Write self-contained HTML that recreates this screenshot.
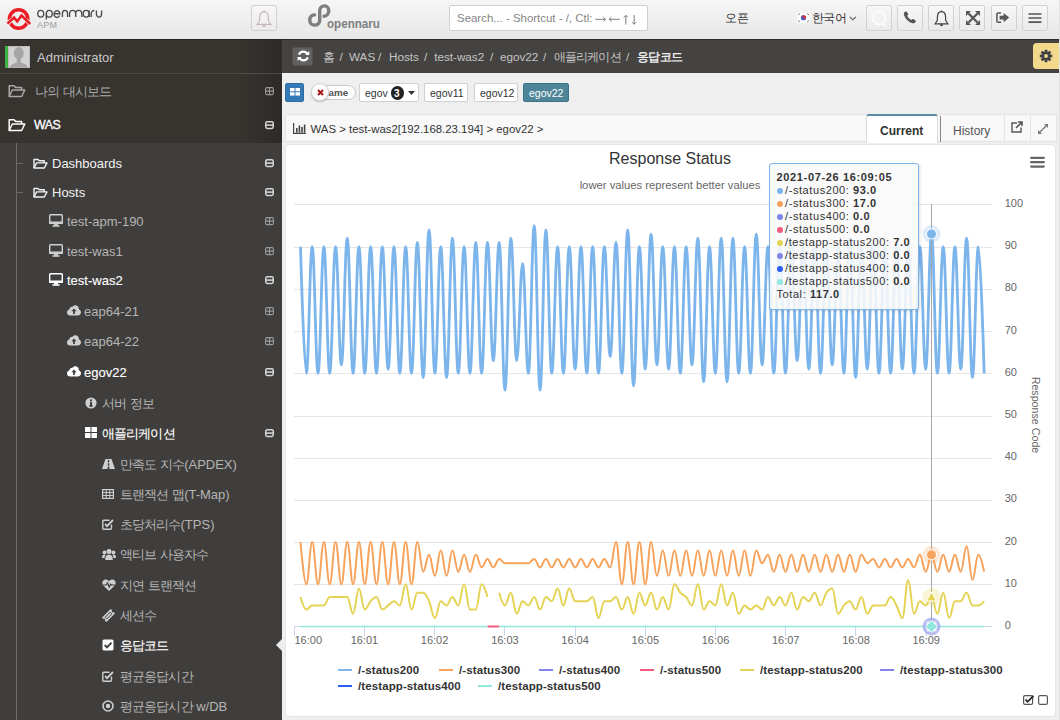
<!DOCTYPE html><html><head><meta charset="utf-8"><style>
*{box-sizing:border-box;margin:0;padding:0}
html,body{width:1060px;height:720px;overflow:hidden;background:#ececec;font-family:"Liberation Sans",sans-serif;position:relative}
.a{position:absolute}
.t{position:absolute;white-space:nowrap;line-height:1}
#hdr{left:0;top:0;width:1060px;height:39px;background:linear-gradient(#f6f6f6,#e7e7e7);}
.hb{position:absolute;top:5px;width:26px;height:26px;border:1px solid #d2d2d2;border-radius:2px;background:linear-gradient(#f7f7f7,#ebebeb)}
.hb svg{position:absolute;left:0;top:0}

#sideTop{left:0;top:39px;width:282px;height:104px;background:linear-gradient(90deg,#37332f 0%,#37332f 85%,#2e2a27 100%)}
#sideNest{left:0;top:143px;width:282px;height:577px;background:#403e3c}
</style></head><body><div id="hdr" class="a">
<svg class="a" style="left:0px;top:0px" width="36" height="36" viewBox="0 0 36 36" ><circle cx="18.6" cy="19" r="9.2" fill="none" stroke="#ec1c24" stroke-width="3.5"/><path d="M6.5 24.6 L12 19.6 M25.6 19.6 L30.9 24.6" fill="none" stroke="#f2f2f2" stroke-width="4.0"/><path d="M7.4 23.6 L14 17.6 L17.3 21.4 L21.5 15.6 L30.2 24" fill="none" stroke="#ec1c24" stroke-width="2.6" stroke-linejoin="miter"/></svg>
<svg class="a" style="left:0px;top:0px" width="110" height="30" viewBox="0 0 110 30" ><ellipse cx="40.75" cy="13.75" rx="2.95" ry="3.35" fill="none" stroke="#4a4a4a" stroke-width="1.35"/><ellipse cx="49.3" cy="13.75" rx="2.95" ry="3.35" fill="none" stroke="#4a4a4a" stroke-width="1.35"/><path d="M46.3 13.75 V19.6" stroke="#4a4a4a" stroke-width="1.35"/><path d="M59.6 15.6 A2.95 3.35 0 1 1 59.9 13.75 H54.1" fill="none" stroke="#4a4a4a" stroke-width="1.35"/><path d="M62.4 17.1 V13.75 A2.6 3.35 0 0 1 67.6 13.75 V17.1" fill="none" stroke="#4a4a4a" stroke-width="1.35"/><path d="M69.6 17.1 V13.75 A3.05 3.35 0 0 1 75.69999999999999 13.75 V17.1 M75.7 13.75 A3.05 3.35 0 0 1 81.8 13.75 V17.1" fill="none" stroke="#4a4a4a" stroke-width="1.35"/><ellipse cx="86.2" cy="13.75" rx="2.95" ry="3.35" fill="none" stroke="#4a4a4a" stroke-width="1.35"/><path d="M89.2 10.4 V17.1" stroke="#4a4a4a" stroke-width="1.35"/><path d="M91.2 17.1 V13.75 A3 3.35 0 0 1 94.3 10.5" fill="none" stroke="#4a4a4a" stroke-width="1.35"/><path d="M96.4 10.4 V13.75 A2.6 3.35 0 0 0 101.6 13.75 V10.4" fill="none" stroke="#4a4a4a" stroke-width="1.35"/></svg>
<div class="t" style="left:37px;top:21px;font-size:9px;color:#9d9d9d;letter-spacing:0.2px">APM</div>
<div class="hb" style="left:251px;top:5px;width:26px;height:26px"></div>
<svg class="a" style="left:255.5px;top:10px" width="17" height="18" viewBox="0 0 17 18" ><path d="M8 1.6 C5.1 1.6 3.6 4.3 3.6 7.6 V10.6 L1.1 14.4 H14.9 L12.4 10.6 V7.6 C12.4 4.3 10.9 1.6 8 1.6 Z" fill="none" stroke="#c8bab6" stroke-width="1.2"/><path d="M6.2 14.8 a1.8 2.2 0 0 0 3.6 0 Z" fill="#c8bab6"/><circle cx="8" cy="1.4" r="1" fill="#c8bab6"/></svg>
<svg class="a" style="left:300px;top:0px" width="40" height="34" viewBox="0 0 40 34" ><path d="M14.6 14.9 C11.2 14.9 9.8 17.6 9.8 20.2 C9.8 23.2 11.8 25.1 14.6 25.1 C17.6 25.1 19.7 23 19.7 20 V10.8 C19.7 7.8 21.9 5.9 24.4 5.9 C27.1 5.9 28.8 8 28.8 10.6 C28.8 13.6 26.8 16.2 24 16.3" fill="none" stroke="#7e7e7e" stroke-width="3.4" stroke-linecap="round"/></svg>
<div class="t" style="left:327px;top:17px;font-size:13.5px;font-weight:bold;color:#7f7f7f;transform:scaleX(0.86);transform-origin:0 0">opennaru</div>
<div class="a" style="left:449px;top:5px;width:199px;height:26px;background:#fff;border:1px solid #d0d0d0;border-radius:2px"></div>
<div class="t" style="left:457px;top:13.2px;font-size:11.45px;color:#858585;">Search... - Shortcut - /, Ctl:</div>
<svg class="a" style="left:594px;top:11px" width="46" height="16" viewBox="0 0 46 16" ><g fill="none" stroke="#7d7d7d" stroke-width="1"><path d="M1.3 8.3 H11.5 M9.2 6 L11.5 8.3 L9.2 10.6"/><path d="M15.2 8.3 H25.8 M17.5 6 L15.2 8.3 L17.5 10.6"/><path d="M31.8 4.4 V13.6 M29.8 6.4 L31.8 4.4 L33.8 6.4"/><path d="M40.2 4 V13.2 M38.2 11.2 L40.2 13.2 L42.2 11.2"/></g></svg>
<div class="t" style="left:725px;top:12px;font-size:12px;color:#333;">오픈</div>
<svg class="a" style="left:797px;top:13px" width="13" height="10" viewBox="0 0 13 10" ><rect x="0" y="0" width="13" height="9.5" fill="#fff"/><circle cx="6.5" cy="4.75" r="2.6" fill="#3b5fc9"/><path d="M3.9 4.75 A2.6 2.6 0 0 1 9.1 4.75 A1.3 1.3 0 0 1 6.5 4.75 A1.3 1.3 0 0 0 3.9 4.75 Z" fill="#e0303a"/><g stroke="#333" stroke-width="0.9"><path d="M1.2 1.8 L2.6 0.8 M10.4 0.8 L11.8 1.8 M1.2 7.7 L2.6 8.7 M10.4 8.7 L11.8 7.7"/></g></svg>
<div class="t" style="left:812px;top:12px;font-size:12px;color:#333;letter-spacing:-0.6px">한국어</div>
<svg class="a" style="left:849px;top:16px" width="8" height="5" viewBox="0 0 8 5" ><path d="M0.8 0.8 L3.8 3.8 L6.8 0.8" fill="none" stroke="#555" stroke-width="1.1"/></svg>
<div class="hb" style="left:866px"></div>
<div class="hb" style="left:897px"></div>
<div class="hb" style="left:928px"></div>
<div class="hb" style="left:959px"></div>
<div class="hb" style="left:991px"></div>
<div class="hb" style="left:1022px"></div>
<svg class="a" style="left:871px;top:10px" width="17" height="18" viewBox="0 0 17 18" ><circle cx="8" cy="8" r="6.2" fill="none" stroke="#fafafa" stroke-width="2.4"/><path d="M11 13 L15 16.5" stroke="#fafafa" stroke-width="2.4"/><path d="M4.5 8 L7 9.8 L11 6" fill="none" stroke="#f4f4f4" stroke-width="1.4"/></svg>
<svg class="a" style="left:903px;top:11px" width="14" height="13" viewBox="0 0 14 13" ><path d="M2.2 0.8 C1 1.5 0.6 2.6 1 4 C2.2 7.8 5.4 11 9.2 12.2 C10.6 12.6 11.8 12.2 12.5 11 L12.8 10.4 C13 10 12.8 9.6 12.5 9.4 L10.3 8 C9.9 7.8 9.5 7.9 9.2 8.2 L8.4 9 C6.6 8.2 5 6.6 4.2 4.8 L5 4 C5.3 3.7 5.4 3.3 5.2 2.9 L3.8 0.7 C3.6 0.4 3.2 0.3 2.8 0.5 Z" fill="#555"/></svg>
<svg class="a" style="left:933.5px;top:10px" width="16" height="17" viewBox="0 0 16 17" ><path d="M7.5 1.6 C4.8 1.6 3.4 4.2 3.4 7.3 V10.2 L1.1 13.8 H13.9 L11.6 10.2 V7.3 C11.6 4.2 10.2 1.6 7.5 1.6 Z" fill="none" stroke="#444" stroke-width="1.2"/><path d="M5.8 14.2 a1.7 2 0 0 0 3.4 0 Z" fill="#444"/><circle cx="7.5" cy="1.3" r="0.9" fill="#444"/></svg>
<svg class="a" style="left:966px;top:11px" width="14" height="14" viewBox="0 0 14 14" ><path d="M2.5 2.5 L11.5 11.5 M11.5 2.5 L2.5 11.5" stroke="#555" stroke-width="2.2"/><path d="M0 0 H5 L0 5 Z M14 0 V5 L9 0 Z M0 14 V9 L5 14 Z M14 14 H9 L14 9 Z" fill="#555"/></svg>
<svg class="a" style="left:996px;top:12px" width="14" height="12" viewBox="0 0 14 12" ><path d="M5 1 H2.2 C1.4 1 0.9 1.5 0.9 2.3 V8.9 C0.9 9.7 1.4 10.2 2.2 10.2 H5" fill="none" stroke="#555" stroke-width="1.5"/><path d="M3.6 3.8 H7.6 V1 L13.2 5.6 L7.6 10.2 V7.4 H3.6 Z" fill="#555"/></svg>
<svg class="a" style="left:1028px;top:13px" width="14" height="11" viewBox="0 0 14 11" ><path d="M0.5 1 H13.5 M0.5 5 H13.5 M0.5 9.1 H13.5" stroke="#555" stroke-width="1.7"/></svg>
</div>
<div id="sideTop" class="a"></div>
<div id="sideNest" class="a"></div>
<div class="a" style="left:0;top:39px;width:282px;height:1px;background:#24211e"></div>
<div class="a" style="left:5px;top:46px;width:24.5px;height:21.5px;background:#d2d2d2;border-left:3px solid #3cb043;box-shadow:inset 0 0 0 1px #bdbdbd"></div>
<svg class="a" style="left:8px;top:46px" width="22" height="22" viewBox="0 0 22 22" ><ellipse cx="10.8" cy="7.2" rx="4.9" ry="6.1" fill="#a5a5a5"/><path d="M1.6 21.5 C2.6 18.6 5.8 17.3 8.8 16.6 V12 H12.8 V16.6 C15.8 17.3 19 18.6 20 21.5 Z" fill="#a5a5a5"/></svg>
<div class="a" style="left:0;top:73px;width:282px;height:1px;background:#4d4a47"></div>
<div class="t" style="left:37px;top:51px;font-size:13px;color:#c9c9c9;">Administrator</div>
<div class="a" style="left:16px;top:143px;width:1px;height:577px;background:#6e6b68"></div>
<div class="a" style="left:17px;top:163px;width:6px;height:1px;background:#6e6b68"></div>
<div class="a" style="left:17px;top:192px;width:6px;height:1px;background:#6e6b68"></div>
<svg class="a" style="left:8px;top:84px" width="18.0" height="14.0" viewBox="0 0 18.0 14.0" ><path d="M1.2 12.5 V1.8 H6 L7.6 3.4 H13.6 V6" fill="none" stroke="#a9a9a9" stroke-width="1.5" stroke-linejoin="round"/><path d="M1.2 12.5 L4.3 6 H16.8 L13.6 12.5 Z" fill="none" stroke="#a9a9a9" stroke-width="1.5" stroke-linejoin="round"/></svg>
<div class="t" style="left:35px;top:85px;font-size:13px;color:#a9a9a9;"><span style="letter-spacing:-0.9px">나의</span> <span style="letter-spacing:-0.9px">대시보드</span></div>
<svg class="a" style="left:265.3px;top:87px" width="9.2" height="8.8" viewBox="0 0 9.2 8.8" ><rect x="0.6" y="0.6" width="7.8" height="7" rx="1.4" fill="none" stroke="#9a9a9a" stroke-width="1.1"/><path d="M0.8 4.1 H8.2 M4.5 0.8 V7.4" stroke="#9a9a9a" stroke-width="1.1"/></svg>
<svg class="a" style="left:8px;top:118px" width="18.0" height="14.0" viewBox="0 0 18.0 14.0" ><path d="M1.2 12.5 V1.8 H6 L7.6 3.4 H13.6 V6" fill="none" stroke="#ffffff" stroke-width="1.5" stroke-linejoin="round"/><path d="M1.2 12.5 L4.3 6 H16.8 L13.6 12.5 Z" fill="none" stroke="#ffffff" stroke-width="1.5" stroke-linejoin="round"/></svg>
<div class="t" style="left:34px;top:119.2px;font-size:12.4px;color:#ffffff;letter-spacing:-0.5px;-webkit-text-stroke:0.3px #fff">WAS</div>
<svg class="a" style="left:265.3px;top:121px" width="9.2" height="8.8" viewBox="0 0 9.2 8.8" ><rect x="0.75" y="0.75" width="7.5" height="6.7" rx="1.6" fill="none" stroke="#d8d8d8" stroke-width="1.5"/><path d="M0.8 4.1 H8.2" stroke="#d8d8d8" stroke-width="1.5"/></svg>
<svg class="a" style="left:33px;top:157.5px" width="15" height="11" viewBox="0 0 15 11" ><path d="M1 10 V1.5 H5 L6.3 2.8 H11.2 V5" fill="none" stroke="#f2f2f2" stroke-width="1.4" stroke-linejoin="round"/><path d="M1 10 L3.6 4.9 H14 L11.3 10 Z" fill="none" stroke="#f2f2f2" stroke-width="1.4" stroke-linejoin="round"/></svg>
<div class="t" style="left:52px;top:157px;font-size:13px;color:#f2f2f2;">Dashboards</div>
<svg class="a" style="left:265.3px;top:159px" width="9.2" height="8.8" viewBox="0 0 9.2 8.8" ><rect x="0.75" y="0.75" width="7.5" height="6.7" rx="1.6" fill="none" stroke="#d8d8d8" stroke-width="1.5"/><path d="M0.8 4.1 H8.2" stroke="#d8d8d8" stroke-width="1.5"/></svg>
<svg class="a" style="left:33px;top:186.5px" width="15" height="11" viewBox="0 0 15 11" ><path d="M1 10 V1.5 H5 L6.3 2.8 H11.2 V5" fill="none" stroke="#f2f2f2" stroke-width="1.4" stroke-linejoin="round"/><path d="M1 10 L3.6 4.9 H14 L11.3 10 Z" fill="none" stroke="#f2f2f2" stroke-width="1.4" stroke-linejoin="round"/></svg>
<div class="t" style="left:52px;top:186px;font-size:13px;color:#f2f2f2;">Hosts</div>
<svg class="a" style="left:265.3px;top:188px" width="9.2" height="8.8" viewBox="0 0 9.2 8.8" ><rect x="0.75" y="0.75" width="7.5" height="6.7" rx="1.6" fill="none" stroke="#d8d8d8" stroke-width="1.5"/><path d="M0.8 4.1 H8.2" stroke="#d8d8d8" stroke-width="1.5"/></svg>
<svg class="a" style="left:49px;top:214px" width="14" height="13" viewBox="0 0 14 13" ><rect x="0.7" y="0.7" width="12.6" height="8.6" rx="0.8" fill="none" stroke="#cfcfcf" stroke-width="1.4"/><rect x="0" y="7.5" width="14" height="2.3" fill="#cfcfcf"/><rect x="5" y="9.5" width="4" height="2" fill="#cfcfcf"/><rect x="3.5" y="11.2" width="7" height="1.6" fill="#cfcfcf"/></svg>
<div class="t" style="left:67px;top:215px;font-size:13px;color:#b5b5b5;">test-apm-190</div>
<svg class="a" style="left:265.3px;top:217px" width="9.2" height="8.8" viewBox="0 0 9.2 8.8" ><rect x="0.6" y="0.6" width="7.8" height="7" rx="1.4" fill="none" stroke="#9a9a9a" stroke-width="1.1"/><path d="M0.8 4.1 H8.2 M4.5 0.8 V7.4" stroke="#9a9a9a" stroke-width="1.1"/></svg>
<svg class="a" style="left:49px;top:244px" width="14" height="13" viewBox="0 0 14 13" ><rect x="0.7" y="0.7" width="12.6" height="8.6" rx="0.8" fill="none" stroke="#cfcfcf" stroke-width="1.4"/><rect x="0" y="7.5" width="14" height="2.3" fill="#cfcfcf"/><rect x="5" y="9.5" width="4" height="2" fill="#cfcfcf"/><rect x="3.5" y="11.2" width="7" height="1.6" fill="#cfcfcf"/></svg>
<div class="t" style="left:67px;top:245px;font-size:13px;color:#b5b5b5;">test-was1</div>
<svg class="a" style="left:265.3px;top:247px" width="9.2" height="8.8" viewBox="0 0 9.2 8.8" ><rect x="0.6" y="0.6" width="7.8" height="7" rx="1.4" fill="none" stroke="#9a9a9a" stroke-width="1.1"/><path d="M0.8 4.1 H8.2 M4.5 0.8 V7.4" stroke="#9a9a9a" stroke-width="1.1"/></svg>
<svg class="a" style="left:49px;top:273px" width="14" height="13" viewBox="0 0 14 13" ><rect x="0.7" y="0.7" width="12.6" height="8.6" rx="0.8" fill="none" stroke="#ffffff" stroke-width="1.4"/><rect x="0" y="7.5" width="14" height="2.3" fill="#ffffff"/><rect x="5" y="9.5" width="4" height="2" fill="#ffffff"/><rect x="3.5" y="11.2" width="7" height="1.6" fill="#ffffff"/></svg>
<div class="t" style="left:67px;top:274px;font-size:13px;color:#ffffff;-webkit-text-stroke:0.12px #fff">test-was2</div>
<svg class="a" style="left:265.3px;top:276px" width="9.2" height="8.8" viewBox="0 0 9.2 8.8" ><rect x="0.75" y="0.75" width="7.5" height="6.7" rx="1.6" fill="none" stroke="#d8d8d8" stroke-width="1.5"/><path d="M0.8 4.1 H8.2" stroke="#d8d8d8" stroke-width="1.5"/></svg>
<svg class="a" style="left:67px;top:305px" width="14" height="11" viewBox="0 0 14 11" ><path d="M3.2 10.5 C1.3 10.5 0 9.2 0 7.5 C0 6 1 4.9 2.3 4.6 C2.4 2.8 3.8 1.6 5.4 1.8 C6.2 0.7 7.4 0 8.8 0.2 C10.8 0.5 12 2.2 11.8 4.2 C13.1 4.6 14 5.8 14 7.3 C14 9.1 12.6 10.5 10.8 10.5 Z" fill="#cfcfcf"/><path d="M7 3.5 L4.4 6.3 H6.1 V9 H7.9 V6.3 H9.6 Z" fill="#403e3c"/></svg>
<div class="t" style="left:84px;top:305px;font-size:13px;color:#b5b5b5;">eap64-21</div>
<svg class="a" style="left:265.3px;top:307px" width="9.2" height="8.8" viewBox="0 0 9.2 8.8" ><rect x="0.6" y="0.6" width="7.8" height="7" rx="1.4" fill="none" stroke="#9a9a9a" stroke-width="1.1"/><path d="M0.8 4.1 H8.2 M4.5 0.8 V7.4" stroke="#9a9a9a" stroke-width="1.1"/></svg>
<svg class="a" style="left:67px;top:335px" width="14" height="11" viewBox="0 0 14 11" ><path d="M3.2 10.5 C1.3 10.5 0 9.2 0 7.5 C0 6 1 4.9 2.3 4.6 C2.4 2.8 3.8 1.6 5.4 1.8 C6.2 0.7 7.4 0 8.8 0.2 C10.8 0.5 12 2.2 11.8 4.2 C13.1 4.6 14 5.8 14 7.3 C14 9.1 12.6 10.5 10.8 10.5 Z" fill="#cfcfcf"/><path d="M7 3.5 L4.4 6.3 H6.1 V9 H7.9 V6.3 H9.6 Z" fill="#403e3c"/></svg>
<div class="t" style="left:84px;top:335px;font-size:13px;color:#b5b5b5;">eap64-22</div>
<svg class="a" style="left:265.3px;top:337px" width="9.2" height="8.8" viewBox="0 0 9.2 8.8" ><rect x="0.6" y="0.6" width="7.8" height="7" rx="1.4" fill="none" stroke="#9a9a9a" stroke-width="1.1"/><path d="M0.8 4.1 H8.2 M4.5 0.8 V7.4" stroke="#9a9a9a" stroke-width="1.1"/></svg>
<svg class="a" style="left:67px;top:366px" width="14" height="11" viewBox="0 0 14 11" ><path d="M3.2 10.5 C1.3 10.5 0 9.2 0 7.5 C0 6 1 4.9 2.3 4.6 C2.4 2.8 3.8 1.6 5.4 1.8 C6.2 0.7 7.4 0 8.8 0.2 C10.8 0.5 12 2.2 11.8 4.2 C13.1 4.6 14 5.8 14 7.3 C14 9.1 12.6 10.5 10.8 10.5 Z" fill="#ffffff"/><path d="M7 3.5 L4.4 6.3 H6.1 V9 H7.9 V6.3 H9.6 Z" fill="#403e3c"/></svg>
<div class="t" style="left:84px;top:366px;font-size:13px;color:#ffffff;-webkit-text-stroke:0.12px #fff">egov22</div>
<svg class="a" style="left:265.3px;top:368px" width="9.2" height="8.8" viewBox="0 0 9.2 8.8" ><rect x="0.75" y="0.75" width="7.5" height="6.7" rx="1.6" fill="none" stroke="#d8d8d8" stroke-width="1.5"/><path d="M0.8 4.1 H8.2" stroke="#d8d8d8" stroke-width="1.5"/></svg>
<svg class="a" style="left:85px;top:397px" width="12" height="12" viewBox="0 0 12 12" ><circle cx="6" cy="6" r="5.6" fill="#cfcfcf"/><rect x="5" y="5" width="2" height="4.5" fill="#403e3c"/><rect x="5" y="2.4" width="2" height="1.8" fill="#403e3c"/><rect x="4.2" y="8.4" width="3.6" height="1.2" fill="#403e3c"/></svg>
<div class="t" style="left:102px;top:397px;font-size:13px;color:#b5b5b5;"><span style="letter-spacing:-0.9px">서버</span> <span style="letter-spacing:-0.9px">정보</span></div>
<svg class="a" style="left:85px;top:427px" width="12" height="11" viewBox="0 0 12 11" ><rect x="0" y="0" width="5.5" height="5" fill="#ffffff"/><rect x="6.5" y="0" width="5.5" height="5" fill="#ffffff"/><rect x="0" y="6" width="5.5" height="5" fill="#ffffff"/><rect x="6.5" y="6" width="5.5" height="5" fill="#ffffff"/></svg>
<div class="t" style="left:102px;top:427px;font-size:13px;color:#ffffff;-webkit-text-stroke:0.12px #fff"><span style="letter-spacing:-0.9px">애플리케이션</span></div>
<svg class="a" style="left:265.3px;top:429px" width="9.2" height="8.8" viewBox="0 0 9.2 8.8" ><rect x="0.75" y="0.75" width="7.5" height="6.7" rx="1.6" fill="none" stroke="#d8d8d8" stroke-width="1.5"/><path d="M0.8 4.1 H8.2" stroke="#d8d8d8" stroke-width="1.5"/></svg>
<svg class="a" style="left:102px;top:459px" width="13" height="10" viewBox="0 0 13 10" ><path d="M3.5 0 H9.5 L13 10 H0 Z" fill="#cfcfcf"/><rect x="5.8" y="1" width="1.4" height="2.3" fill="#403e3c"/><rect x="5.8" y="4.2" width="1.4" height="2.6" fill="#403e3c"/><rect x="5.6" y="7.7" width="1.8" height="2.3" fill="#403e3c"/></svg>
<div class="t" style="left:120px;top:458px;font-size:13px;color:#b5b5b5;"><span style="letter-spacing:-0.9px">만족도</span> <span style="letter-spacing:-0.9px">지수</span>(APDEX)</div>
<svg class="a" style="left:102px;top:489px" width="12" height="10" viewBox="0 0 12 10" ><rect x="0.6" y="0.6" width="10.8" height="8.8" fill="none" stroke="#cfcfcf" stroke-width="1.2"/><path d="M0.6 3.6 H11.4 M0.6 6.5 H11.4 M4.2 0.6 V9.4 M7.8 0.6 V9.4" stroke="#cfcfcf" stroke-width="1"/></svg>
<div class="t" style="left:120px;top:488px;font-size:13px;color:#b5b5b5;"><span style="letter-spacing:-0.9px">트랜잭션</span> <span style="letter-spacing:-0.9px">맵</span>(T-Map)</div>
<svg class="a" style="left:102px;top:518px" width="12" height="12" viewBox="0 0 12 12" ><path d="M9.5 6.5 V10.2 C9.5 10.8 9.1 11.2 8.5 11.2 H1.8 C1.2 11.2 0.8 10.8 0.8 10.2 V3.3 C0.8 2.7 1.2 2.3 1.8 2.3 H7.5" fill="none" stroke="#cfcfcf" stroke-width="1.4"/><path d="M3 6 L5 8.2 L11 2" fill="none" stroke="#cfcfcf" stroke-width="1.8"/></svg>
<div class="t" style="left:120px;top:518px;font-size:13px;color:#b5b5b5;"><span style="letter-spacing:-0.9px">초당처리수</span>(TPS)</div>
<svg class="a" style="left:102px;top:549px" width="14" height="11" viewBox="0 0 14 11" ><circle cx="7" cy="2.6" r="2.5" fill="#cfcfcf"/><circle cx="2.5" cy="3.4" r="1.9" fill="#cfcfcf"/><circle cx="11.5" cy="3.4" r="1.9" fill="#cfcfcf"/><path d="M3.2 11 C3.2 7 4.8 5.8 7 5.8 C9.2 5.8 10.8 7 10.8 11 Z" fill="#cfcfcf"/><path d="M0 9 C0 6.5 1 5.6 2.6 5.6 C3.2 5.6 3.5 5.8 3.6 6 C2.8 6.8 2.6 8 2.6 9 Z M14 9 C14 6.5 13 5.6 11.4 5.6 C10.8 5.6 10.5 5.8 10.4 6 C11.2 6.8 11.4 8 11.4 9 Z" fill="#cfcfcf"/></svg>
<div class="t" style="left:120px;top:548px;font-size:13px;color:#b5b5b5;"><span style="letter-spacing:-0.9px">액티브</span> <span style="letter-spacing:-0.9px">사용자수</span></div>
<svg class="a" style="left:102px;top:579px" width="14" height="12" viewBox="0 0 14 12" ><path d="M7 12 L1.2 6.5 C-0.5 4.5 0.2 0.8 3.6 0.6 C5.3 0.5 6.4 1.6 7 2.4 C7.6 1.6 8.7 0.5 10.4 0.6 C13.8 0.8 14.5 4.5 12.8 6.5 Z" fill="#cfcfcf"/><path d="M1 6 H4.2 L5.5 3.8 L7.2 8 L8.6 5.2 L9.4 6 H13" fill="none" stroke="#403e3c" stroke-width="1.2"/></svg>
<div class="t" style="left:120px;top:579px;font-size:13px;color:#b5b5b5;"><span style="letter-spacing:-0.9px">지연</span> <span style="letter-spacing:-0.9px">트랜잭션</span></div>
<svg class="a" style="left:102px;top:609px" width="13" height="13" viewBox="0 0 13 13" ><g transform="rotate(-45 6.5 6.5)"><rect x="0.3" y="3.4" width="12.4" height="6.2" rx="0.6" fill="#cfcfcf"/><rect x="2.9" y="5.3" width="7.2" height="2.4" fill="none" stroke="#403e3c" stroke-width="0.9"/><circle cx="0.3" cy="6.5" r="1.1" fill="#403e3c"/><circle cx="12.7" cy="6.5" r="1.1" fill="#403e3c"/></g></svg>
<div class="t" style="left:120px;top:609px;font-size:13px;color:#b5b5b5;"><span style="letter-spacing:-0.9px">세션수</span></div>
<svg class="a" style="left:102px;top:639px" width="12" height="12" viewBox="0 0 12 12" ><rect x="0.5" y="0.5" width="11" height="11" rx="1.5" fill="#ffffff"/><path d="M2.7 6 L5 8.3 L9.5 3.6" fill="none" stroke="#403e3c" stroke-width="1.9"/></svg>
<div class="t" style="left:120px;top:639px;font-size:13px;color:#ffffff;-webkit-text-stroke:0.12px #fff"><span style="letter-spacing:-0.9px">응답코드</span></div>
<svg class="a" style="left:102px;top:670px" width="12" height="12" viewBox="0 0 12 12" ><path d="M9.5 6.5 V10.2 C9.5 10.8 9.1 11.2 8.5 11.2 H1.8 C1.2 11.2 0.8 10.8 0.8 10.2 V3.3 C0.8 2.7 1.2 2.3 1.8 2.3 H7.5" fill="none" stroke="#cfcfcf" stroke-width="1.4"/><path d="M3 6 L5 8.2 L11 2" fill="none" stroke="#cfcfcf" stroke-width="1.8"/></svg>
<div class="t" style="left:120px;top:670px;font-size:13px;color:#b5b5b5;"><span style="letter-spacing:-0.9px">평균응답시간</span></div>
<svg class="a" style="left:102px;top:700px" width="12" height="12" viewBox="0 0 12 12" ><circle cx="6" cy="6" r="5" fill="none" stroke="#cfcfcf" stroke-width="1.6"/><circle cx="6" cy="6" r="2.2" fill="#cfcfcf"/></svg>
<div class="t" style="left:120px;top:700px;font-size:13px;color:#b5b5b5;"><span style="letter-spacing:-0.9px">평균응답시간</span> w/DB</div>
<svg class="a" style="left:276px;top:639px" width="6" height="12" viewBox="0 0 6 12" ><path d="M6 0 L0 6 L6 12 Z" fill="#ececec"/></svg>
<div class="a" style="left:282px;top:73px;width:778px;height:647px;background:#efefef"></div>
<div class="a" style="left:282px;top:39px;width:778px;height:34px;background:#454341"></div>
<div class="a" style="left:282px;top:39px;width:778px;height:1px;background:#2b2825"></div>
<div class="a" style="left:293px;top:47.5px;width:19px;height:17.5px;background:#62605e;border-radius:2px;box-shadow:0 0 0 1px #555351"></div>
<svg class="a" style="left:296.5px;top:50.2px" width="13" height="12" viewBox="0 0 13 12" ><path d="M10.6 4.6 A4.6 4.6 0 0 0 2 4.6 M2.2 7.4 A4.6 4.6 0 0 0 10.8 7.4" fill="none" stroke="#fff" stroke-width="2.2"/><path d="M8.2 5 L12.3 5 L12.3 0.9 Z M4.6 7 L0.6 7 L0.6 11.1 Z" fill="#fff"/></svg>
<div class="t" style="left:322.5px;top:51.3px;font-size:11.7px;color:#c4c4c4;">홈</div>
<div class="t" style="left:339.5px;top:51.3px;font-size:11.7px;color:#c4c4c4;">/</div>
<div class="t" style="left:349px;top:51.3px;font-size:11.7px;color:#c4c4c4;">WAS</div>
<div class="t" style="left:378px;top:51.3px;font-size:11.7px;color:#c4c4c4;">/</div>
<div class="t" style="left:389px;top:51.3px;font-size:11.7px;color:#c4c4c4;">Hosts</div>
<div class="t" style="left:424px;top:51.3px;font-size:11.7px;color:#c4c4c4;">/</div>
<div class="t" style="left:434.2px;top:51.3px;font-size:11.7px;color:#c4c4c4;">test-was2</div>
<div class="t" style="left:490px;top:51.3px;font-size:11.7px;color:#c4c4c4;">/</div>
<div class="t" style="left:500px;top:51.3px;font-size:11.7px;color:#c4c4c4;">egov22</div>
<div class="t" style="left:543px;top:51.3px;font-size:11.7px;color:#c4c4c4;">/</div>
<div class="t" style="left:554px;top:51.3px;font-size:11.7px;color:#c4c4c4;letter-spacing:-0.9px">애플리케이션</div>
<div class="t" style="left:626px;top:51.3px;font-size:11.7px;color:#c4c4c4;">/</div>
<div class="t" style="left:636.6px;top:51.3px;font-size:11.7px;color:#f4f4f4;letter-spacing:-0.5px;-webkit-text-stroke:0.35px #f4f4f4">응답코드</div>
<div class="a" style="left:1033px;top:43px;width:27px;height:26px;background:#f2d98c;border-radius:4px 0 0 4px"></div>
<svg class="a" style="left:1038.4px;top:48px" width="16" height="16" viewBox="0 0 16 16" ><g transform="translate(8 8)" fill="#3f4246"><circle r="4.3"/><rect x="-1.4" y="-6.2" width="2.8" height="3" transform="rotate(0)"/><rect x="-1.4" y="-6.2" width="2.8" height="3" transform="rotate(45)"/><rect x="-1.4" y="-6.2" width="2.8" height="3" transform="rotate(90)"/><rect x="-1.4" y="-6.2" width="2.8" height="3" transform="rotate(135)"/><rect x="-1.4" y="-6.2" width="2.8" height="3" transform="rotate(180)"/><rect x="-1.4" y="-6.2" width="2.8" height="3" transform="rotate(225)"/><rect x="-1.4" y="-6.2" width="2.8" height="3" transform="rotate(270)"/><rect x="-1.4" y="-6.2" width="2.8" height="3" transform="rotate(315)"/><circle r="1.9" fill="#f2d98c"/></g></svg>
<div class="a" style="left:285px;top:83px;width:19px;height:19px;background:#337ab7;border-radius:2px;border:1px solid #2e6da4"></div>
<svg class="a" style="left:290px;top:88.3px" width="10" height="7.6" viewBox="0 0 10 7.6" ><rect x="0" y="0" width="4.5" height="3.3" fill="#fff"/><rect x="5.5" y="0" width="4.5" height="3.3" fill="#fff"/><rect x="0" y="4.3" width="4.5" height="3.3" fill="#fff"/><rect x="5.5" y="4.3" width="4.5" height="3.3" fill="#fff"/></svg>
<div class="a" style="left:314px;top:85px;width:41.5px;height:14.5px;background:#fdfdfd;border:1px solid #c8c8c8;border-radius:8px"></div>
<div class="t" style="left:322.5px;top:88.2px;font-size:9.8px;color:#555;font-weight:bold;">name</div>
<div class="a" style="left:311.3px;top:83.3px;width:17.5px;height:17.5px;background:#fbfbfb;border:1px solid #d4d4d4;border-radius:50%;box-shadow:0 1px 1.5px rgba(0,0,0,.2)"></div>
<svg class="a" style="left:316.5px;top:88.5px" width="7" height="7" viewBox="0 0 7 7" ><path d="M1 1 L6 6 M6 1 L1 6" stroke="#a8161c" stroke-width="2"/></svg>
<div class="a" style="left:359px;top:83px;width:60px;height:19px;background:#fff;border:1px solid #d0d0d0;border-radius:2px"></div><div class="t" style="left:365px;top:88px;font-size:10.5px;color:#333;">egov</div>
<div class="a" style="left:390.5px;top:86px;width:13.5px;height:13.5px;background:#222;border-radius:50%"></div>
<div class="t" style="left:394px;top:88.5px;font-size:10px;color:#fff;font-weight:bold;">3</div>
<svg class="a" style="left:408px;top:91px" width="7" height="4" viewBox="0 0 7 4" ><path d="M0 0 H7 L3.5 4 Z" fill="#333"/></svg>
<div class="a" style="left:424px;top:83px;width:44px;height:19px;background:#fff;border:1px solid #d0d0d0;border-radius:2px"></div><div class="t" style="left:430px;top:88px;font-size:10.5px;color:#333;">egov11</div>
<div class="a" style="left:474px;top:83px;width:44px;height:19px;background:#fff;border:1px solid #d0d0d0;border-radius:2px"></div><div class="t" style="left:480px;top:88px;font-size:10.5px;color:#333;">egov12</div>
<div class="a" style="left:523px;top:83px;width:46px;height:19px;background:#4e8599;border:1px solid #3f7387;border-radius:2px"></div><div class="t" style="left:529px;top:88px;font-size:10.5px;color:#fff;">egov22</div>
<div class="a" style="left:285px;top:114px;width:772px;height:28px;background:#f8f8f8;border:1px solid #e4e4e4;border-radius:2px 2px 0 0"></div>
<div class="a" style="left:285px;top:144px;width:771px;height:573px;background:#fff;border:1px solid #e6e6e6;border-radius:4px"></div>
<svg class="a" style="left:293px;top:123px" width="13" height="11" viewBox="0 0 13 11" ><path d="M0.6 0 V10.4 H13" fill="none" stroke="#444" stroke-width="1.2"/><rect x="3" y="5" width="1.6" height="4.6" fill="#444"/><rect x="5.6" y="2.5" width="1.6" height="7.1" fill="#444"/><rect x="8.2" y="4" width="1.6" height="5.6" fill="#444"/><rect x="10.8" y="1.5" width="1.6" height="8.1" fill="#444"/></svg>
<div class="t" style="left:310.5px;top:124px;font-size:11.4px;color:#333;">WAS &gt; test-was2[192.168.23.194] &gt; egov22 &gt;</div>
<div class="a" style="left:866px;top:114px;width:72px;height:29px;background:#fff;border:1px solid #dcdcdc;border-top:2px solid #5a8ea3;border-bottom:none;border-radius:3px 3px 0 0"></div>
<div class="t" style="left:880px;top:125px;font-size:12px;color:#333;font-weight:bold;">Current</div>
<div class="a" style="left:939.5px;top:116px;width:1.5px;height:26px;background:#888"></div>
<div class="t" style="left:953px;top:125px;font-size:12px;color:#555;">History</div>
<div class="a" style="left:1004px;top:114px;width:1px;height:28px;background:#e6e6e6"></div>
<div class="a" style="left:1030px;top:114px;width:1px;height:28px;background:#e6e6e6"></div>
<svg class="a" style="left:1011px;top:121px" width="12" height="12" viewBox="0 0 12 12" ><path d="M6 2 H1 V11 H10 V6.5" fill="none" stroke="#555" stroke-width="1.4"/><path d="M5 7 L11 1 M7 1 H11 V5" fill="none" stroke="#555" stroke-width="1.6"/></svg>
<svg class="a" style="left:1037px;top:123px" width="12" height="12" viewBox="0 0 12 12" ><path d="M2.5 9.5 L9.5 2.5" stroke="#7a7a80" stroke-width="1.5"/><path d="M7 1 H11 V5 Z M1 7 V11 H5 Z" fill="#7a7a80"/></svg>
<svg class="a" style="left:0;top:0" width="1060" height="720" viewBox="0 0 1060 720"><path d="M294 626.5 H992" stroke="#e6e6e6" stroke-width="1"/><path d="M294 584.5 H992" stroke="#e6e6e6" stroke-width="1"/><path d="M294 542.5 H992" stroke="#e6e6e6" stroke-width="1"/><path d="M294 500.5 H992" stroke="#e6e6e6" stroke-width="1"/><path d="M294 458.5 H992" stroke="#e6e6e6" stroke-width="1"/><path d="M294 416.5 H992" stroke="#e6e6e6" stroke-width="1"/><path d="M294 373.5 H992" stroke="#e6e6e6" stroke-width="1"/><path d="M294 331.5 H992" stroke="#e6e6e6" stroke-width="1"/><path d="M294 289.5 H992" stroke="#e6e6e6" stroke-width="1"/><path d="M294 247.5 H992" stroke="#e6e6e6" stroke-width="1"/><path d="M294 204.5 H992" stroke="#e6e6e6" stroke-width="1"/><path d="M294 626.5 H992" stroke="#ccd6eb" stroke-width="1"/><path d="M294.5 626 V636" stroke="#ccd6eb" stroke-width="1"/><path d="M364.5 626 V636" stroke="#ccd6eb" stroke-width="1"/><path d="M434.5 626 V636" stroke="#ccd6eb" stroke-width="1"/><path d="M504.5 626 V636" stroke="#ccd6eb" stroke-width="1"/><path d="M575.5 626 V636" stroke="#ccd6eb" stroke-width="1"/><path d="M645.5 626 V636" stroke="#ccd6eb" stroke-width="1"/><path d="M715.5 626 V636" stroke="#ccd6eb" stroke-width="1"/><path d="M785.5 626 V636" stroke="#ccd6eb" stroke-width="1"/><path d="M855.5 626 V636" stroke="#ccd6eb" stroke-width="1"/><path d="M926.5 626 V636" stroke="#ccd6eb" stroke-width="1"/><path d="M487.5 626.5 H499.2" fill="none" stroke="#f15c80" stroke-width="2"/><path d="M300.50 246.70 C300.50 246.70 304.01 373.30 306.35 373.30 C308.68 373.30 309.85 246.70 312.19 246.70 C314.53 246.70 315.69 373.30 318.03 373.30 C320.37 373.30 321.54 246.70 323.88 246.70 C326.21 246.70 327.38 373.30 329.72 373.30 C332.06 373.30 333.22 246.70 335.56 246.70 C337.90 246.70 339.07 364.86 341.40 364.86 C343.74 364.86 344.91 238.26 347.25 238.26 C349.58 238.26 350.75 373.30 353.09 373.30 C355.43 373.30 356.60 246.70 358.93 246.70 C361.27 246.70 362.44 373.30 364.78 373.30 C367.11 373.30 368.28 246.70 370.62 246.70 C372.96 246.70 374.12 373.30 376.46 373.30 C378.80 373.30 379.97 246.70 382.31 246.70 C384.64 246.70 385.81 369.08 388.15 369.08 C390.49 369.08 391.65 246.70 393.99 246.70 C396.33 246.70 397.50 373.30 399.83 373.30 C402.17 373.30 403.34 246.70 405.68 246.70 C408.01 246.70 409.18 373.30 411.52 373.30 C413.86 373.30 415.03 242.48 417.36 242.48 C419.70 242.48 420.87 377.52 423.21 377.52 C425.54 377.52 426.71 229.82 429.05 229.82 C431.39 229.82 432.55 373.30 434.89 373.30 C437.23 373.30 438.40 246.70 440.74 246.70 C443.07 246.70 444.24 377.52 446.58 377.52 C448.92 377.52 450.08 238.26 452.42 238.26 C454.76 238.26 455.93 373.30 458.26 373.30 C460.60 373.30 461.77 246.70 464.11 246.70 C466.44 246.70 467.61 373.30 469.95 373.30 C472.29 373.30 473.46 242.48 475.79 242.48 C478.13 242.48 479.30 373.30 481.64 373.30 C483.97 373.30 485.14 242.48 487.48 242.48 C489.82 242.48 490.98 360.64 493.32 360.64 C495.66 360.64 496.83 242.48 499.17 242.48 C501.50 242.48 502.67 390.18 505.01 390.18 C507.35 390.18 508.51 238.26 510.85 238.26 C513.19 238.26 514.36 360.64 516.69 360.64 C519.03 360.64 520.20 263.58 522.54 263.58 C524.87 263.58 526.04 373.30 528.38 373.30 C530.72 373.30 531.89 225.60 534.22 225.60 C536.56 225.60 537.73 390.18 540.07 390.18 C542.40 390.18 543.57 229.82 545.91 229.82 C548.25 229.82 549.41 373.30 551.75 373.30 C554.09 373.30 555.26 246.70 557.60 246.70 C559.93 246.70 561.10 373.30 563.44 373.30 C565.78 373.30 566.94 246.70 569.28 246.70 C571.62 246.70 572.79 369.08 575.12 369.08 C577.46 369.08 578.63 246.70 580.97 246.70 C583.30 246.70 584.47 373.30 586.81 373.30 C589.15 373.30 590.32 246.70 592.65 246.70 C594.99 246.70 596.16 373.30 598.50 373.30 C600.83 373.30 602.00 246.70 604.34 246.70 C606.68 246.70 607.84 356.42 610.18 356.42 C612.52 356.42 613.69 242.48 616.03 242.48 C618.36 242.48 619.53 373.30 621.87 373.30 C624.21 373.30 625.37 229.82 627.71 229.82 C630.05 229.82 631.22 385.96 633.55 385.96 C635.89 385.96 637.06 246.70 639.40 246.70 C641.73 246.70 642.90 369.08 645.24 369.08 C647.58 369.08 648.75 234.04 651.08 234.04 C653.42 234.04 654.59 364.86 656.93 364.86 C659.26 364.86 660.43 246.70 662.77 246.70 C665.11 246.70 666.27 369.08 668.61 369.08 C670.95 369.08 672.12 246.70 674.46 246.70 C676.79 246.70 677.96 373.30 680.30 373.30 C682.64 373.30 683.80 246.70 686.14 246.70 C688.48 246.70 689.65 364.86 691.98 364.86 C694.32 364.86 695.49 238.26 697.83 238.26 C700.16 238.26 701.33 381.74 703.67 381.74 C706.01 381.74 707.18 246.70 709.51 246.70 C711.85 246.70 713.02 373.30 715.36 373.30 C717.69 373.30 718.86 238.26 721.20 238.26 C723.54 238.26 724.70 381.74 727.04 381.74 C729.38 381.74 730.55 238.26 732.88 238.26 C735.22 238.26 736.39 373.30 738.73 373.30 C741.07 373.30 742.23 246.70 744.57 246.70 C746.91 246.70 748.08 373.30 750.41 373.30 C752.75 373.30 753.92 234.04 756.26 234.04 C758.59 234.04 759.76 364.86 762.10 364.86 C764.44 364.86 765.61 246.70 767.94 246.70 C770.28 246.70 771.45 373.30 773.79 373.30 C776.12 373.30 777.29 246.70 779.63 246.70 C781.97 246.70 783.13 373.30 785.47 373.30 C787.81 373.30 788.98 242.48 791.32 242.48 C793.65 242.48 794.82 360.64 797.16 360.64 C799.50 360.64 800.66 246.70 803.00 246.70 C805.34 246.70 806.51 369.08 808.84 369.08 C811.18 369.08 812.35 242.48 814.69 242.48 C817.02 242.48 818.19 373.30 820.53 373.30 C822.87 373.30 824.04 246.70 826.37 246.70 C828.71 246.70 829.88 364.86 832.22 364.86 C834.55 364.86 835.72 246.70 838.06 246.70 C840.40 246.70 841.56 373.30 843.90 373.30 C846.24 373.30 847.41 238.26 849.75 238.26 C852.08 238.26 853.25 377.52 855.59 377.52 C857.93 377.52 859.09 246.70 861.43 246.70 C863.77 246.70 864.94 369.08 867.27 369.08 C869.61 369.08 870.78 242.48 873.12 242.48 C875.45 242.48 876.62 373.30 878.96 373.30 C881.30 373.30 882.47 246.70 884.80 246.70 C887.14 246.70 888.31 373.30 890.65 373.30 C892.98 373.30 894.15 242.48 896.49 242.48 C898.83 242.48 899.99 369.08 902.33 369.08 C904.67 369.08 905.84 246.70 908.17 246.70 C910.51 246.70 911.68 373.30 914.02 373.30 C916.36 373.30 917.52 246.70 919.86 246.70 C922.20 246.70 923.37 369.08 925.70 369.08 C928.04 369.08 929.21 234.04 931.55 234.04 C933.88 234.04 935.05 373.30 937.39 373.30 C939.73 373.30 940.90 246.70 943.23 246.70 C945.57 246.70 946.74 373.30 949.08 373.30 C951.41 373.30 952.58 246.70 954.92 246.70 C957.26 246.70 958.42 369.08 960.76 369.08 C963.10 369.08 964.27 238.26 966.61 238.26 C968.94 238.26 970.11 377.52 972.45 377.52 C974.79 377.52 975.95 246.70 978.29 246.70 C980.63 246.70 984.13 373.30 984.13 373.30" fill="none" stroke="#7cb5ec" stroke-width="2.8" stroke-linejoin="round"/><path d="M300.50 542.10 C300.50 542.10 304.01 584.30 306.35 584.30 C308.68 584.30 309.85 542.10 312.19 542.10 C314.53 542.10 315.69 584.30 318.03 584.30 C320.37 584.30 321.54 542.10 323.88 542.10 C326.21 542.10 327.38 584.30 329.72 584.30 C332.06 584.30 333.22 542.10 335.56 542.10 C337.90 542.10 339.07 584.30 341.40 584.30 C343.74 584.30 344.91 542.10 347.25 542.10 C349.58 542.10 350.75 584.30 353.09 584.30 C355.43 584.30 356.60 542.10 358.93 542.10 C361.27 542.10 362.44 584.30 364.78 584.30 C367.11 584.30 368.28 542.10 370.62 542.10 C372.96 542.10 374.12 584.30 376.46 584.30 C378.80 584.30 379.97 542.10 382.31 542.10 C384.64 542.10 385.81 584.30 388.15 584.30 C390.49 584.30 391.65 542.10 393.99 542.10 C396.33 542.10 397.50 584.30 399.83 584.30 C402.17 584.30 403.34 542.10 405.68 542.10 C408.01 542.10 409.18 584.30 411.52 584.30 C413.86 584.30 415.03 542.10 417.36 542.10 C419.70 542.10 420.87 571.64 423.21 571.64 C425.54 571.64 426.71 554.76 429.05 554.76 C431.39 554.76 432.55 575.86 434.89 575.86 C437.23 575.86 438.40 550.54 440.74 550.54 C443.07 550.54 444.24 575.86 446.58 575.86 C448.92 575.86 450.08 550.54 452.42 550.54 C454.76 550.54 455.93 571.64 458.26 571.64 C460.60 571.64 461.77 554.76 464.11 554.76 C466.44 554.76 467.61 571.64 469.95 571.64 C472.29 571.64 473.46 554.76 475.79 554.76 C478.13 554.76 479.30 567.42 481.64 567.42 C483.97 567.42 485.14 558.98 487.48 558.98 C489.82 558.98 490.98 567.42 493.32 567.42 C495.66 567.42 496.83 558.98 499.17 558.98 C501.50 558.98 502.67 563.20 505.01 563.20 C507.35 563.20 508.51 563.20 510.85 563.20 C513.19 563.20 514.36 563.20 516.69 563.20 C519.03 563.20 520.20 563.20 522.54 563.20 C524.87 563.20 526.04 563.20 528.38 563.20 C530.72 563.20 531.89 558.98 534.22 558.98 C536.56 558.98 537.73 567.42 540.07 567.42 C542.40 567.42 543.57 558.98 545.91 558.98 C548.25 558.98 549.41 567.42 551.75 567.42 C554.09 567.42 555.26 558.98 557.60 558.98 C559.93 558.98 561.10 567.42 563.44 567.42 C565.78 567.42 566.94 558.98 569.28 558.98 C571.62 558.98 572.79 567.42 575.12 567.42 C577.46 567.42 578.63 558.98 580.97 558.98 C583.30 558.98 584.47 567.42 586.81 567.42 C589.15 567.42 590.32 558.98 592.65 558.98 C594.99 558.98 596.16 567.42 598.50 567.42 C600.83 567.42 602.00 558.98 604.34 558.98 C606.68 558.98 607.84 567.42 610.18 567.42 C612.52 567.42 613.69 542.10 616.03 542.10 C618.36 542.10 619.53 584.30 621.87 584.30 C624.21 584.30 625.37 542.10 627.71 542.10 C630.05 542.10 631.22 584.30 633.55 584.30 C635.89 584.30 637.06 542.10 639.40 542.10 C641.73 542.10 642.90 584.30 645.24 584.30 C647.58 584.30 648.75 542.10 651.08 542.10 C653.42 542.10 654.59 575.86 656.93 575.86 C659.26 575.86 660.43 550.54 662.77 550.54 C665.11 550.54 666.27 575.86 668.61 575.86 C670.95 575.86 672.12 550.54 674.46 550.54 C676.79 550.54 677.96 575.86 680.30 575.86 C682.64 575.86 683.80 550.54 686.14 550.54 C688.48 550.54 689.65 575.86 691.98 575.86 C694.32 575.86 695.49 550.54 697.83 550.54 C700.16 550.54 701.33 575.86 703.67 575.86 C706.01 575.86 707.18 550.54 709.51 550.54 C711.85 550.54 713.02 575.86 715.36 575.86 C717.69 575.86 718.86 550.54 721.20 550.54 C723.54 550.54 724.70 575.86 727.04 575.86 C729.38 575.86 730.55 550.54 732.88 550.54 C735.22 550.54 736.39 575.86 738.73 575.86 C741.07 575.86 742.23 550.54 744.57 550.54 C746.91 550.54 748.08 575.86 750.41 575.86 C752.75 575.86 753.92 550.54 756.26 550.54 C758.59 550.54 759.76 563.20 762.10 563.20 C764.44 563.20 765.61 554.76 767.94 554.76 C770.28 554.76 771.45 571.64 773.79 571.64 C776.12 571.64 777.29 554.76 779.63 554.76 C781.97 554.76 783.13 571.64 785.47 571.64 C787.81 571.64 788.98 554.76 791.32 554.76 C793.65 554.76 794.82 571.64 797.16 571.64 C799.50 571.64 800.66 554.76 803.00 554.76 C805.34 554.76 806.51 571.64 808.84 571.64 C811.18 571.64 812.35 554.76 814.69 554.76 C817.02 554.76 818.19 571.64 820.53 571.64 C822.87 571.64 824.04 554.76 826.37 554.76 C828.71 554.76 829.88 571.64 832.22 571.64 C834.55 571.64 835.72 554.76 838.06 554.76 C840.40 554.76 841.56 571.64 843.90 571.64 C846.24 571.64 847.41 554.76 849.75 554.76 C852.08 554.76 853.25 571.64 855.59 571.64 C857.93 571.64 859.09 554.76 861.43 554.76 C863.77 554.76 864.94 563.20 867.27 563.20 C869.61 563.20 870.78 558.98 873.12 558.98 C875.45 558.98 876.62 567.42 878.96 567.42 C881.30 567.42 882.47 558.98 884.80 558.98 C887.14 558.98 888.31 567.42 890.65 567.42 C892.98 567.42 894.15 558.98 896.49 558.98 C898.83 558.98 899.99 567.42 902.33 567.42 C904.67 567.42 905.84 558.98 908.17 558.98 C910.51 558.98 911.68 567.42 914.02 567.42 C916.36 567.42 917.52 554.76 919.86 554.76 C922.20 554.76 923.37 571.64 925.70 571.64 C928.04 571.64 929.21 554.76 931.55 554.76 C933.88 554.76 935.05 571.64 937.39 571.64 C939.73 571.64 940.90 554.76 943.23 554.76 C945.57 554.76 946.74 571.64 949.08 571.64 C951.41 571.64 952.58 554.76 954.92 554.76 C957.26 554.76 958.42 571.64 960.76 571.64 C963.10 571.64 964.27 546.32 966.61 546.32 C968.94 546.32 970.11 580.08 972.45 580.08 C974.79 580.08 975.95 554.76 978.29 554.76 C980.63 554.76 984.13 571.64 984.13 571.64" fill="none" stroke="#f7a35c" stroke-width="2" stroke-linejoin="round"/><path d="M300.50 596.96 C300.50 596.96 304.01 609.62 306.35 609.62 C308.68 609.62 309.85 605.40 312.19 605.40 C314.53 605.40 315.69 605.40 318.03 605.40 C320.37 605.40 321.54 605.40 323.88 605.40 C326.21 605.40 327.38 596.96 329.72 596.96 C332.06 596.96 333.22 596.96 335.56 596.96 C337.90 596.96 339.07 596.96 341.40 596.96 C343.74 596.96 344.91 596.96 347.25 596.96 C349.58 596.96 350.75 613.84 353.09 613.84 C355.43 613.84 356.60 588.52 358.93 588.52 C361.27 588.52 362.44 609.62 364.78 609.62 C367.11 609.62 368.28 603.71 370.62 601.18 C372.96 598.65 374.12 596.96 376.46 596.96 C378.80 596.96 379.97 609.62 382.31 609.62 C384.64 609.62 385.81 607.09 388.15 605.40 C390.49 603.71 391.65 601.18 393.99 601.18 C396.33 601.18 397.50 605.40 399.83 605.40 C402.17 605.40 403.34 584.30 405.68 584.30 C408.01 584.30 409.18 609.62 411.52 609.62 C413.86 609.62 415.03 592.74 417.36 592.74 C419.70 592.74 420.87 592.74 423.21 592.74 C425.54 592.74 426.71 596.12 429.05 601.18 C431.39 606.24 432.55 618.06 434.89 618.06 C437.23 618.06 438.40 601.18 440.74 601.18 C443.07 601.18 444.24 605.40 446.58 605.40 C448.92 605.40 450.08 596.96 452.42 596.96 C454.76 596.96 455.93 605.40 458.26 605.40 C460.60 605.40 461.77 584.30 464.11 584.30 C466.44 584.30 467.61 609.62 469.95 609.62 C472.29 609.62 473.46 609.62 475.79 609.62 C478.13 609.62 479.30 584.30 481.64 584.30 C483.97 584.30 487.48 596.96 487.48 596.96 M499.17 592.74 C499.17 592.74 502.67 605.40 505.01 605.40 C507.35 605.40 508.51 592.74 510.85 592.74 C513.19 592.74 514.36 613.84 516.69 613.84 C519.03 613.84 520.20 601.18 522.54 601.18 C524.87 601.18 526.04 605.40 528.38 605.40 C530.72 605.40 531.89 596.96 534.22 596.96 C536.56 596.96 537.73 609.62 540.07 609.62 C542.40 609.62 543.57 596.96 545.91 596.96 C548.25 596.96 549.41 601.18 551.75 601.18 C554.09 601.18 555.26 588.52 557.60 588.52 C559.93 588.52 561.10 605.40 563.44 605.40 C565.78 605.40 566.94 588.52 569.28 588.52 C571.62 588.52 572.79 601.18 575.12 601.18 C577.46 601.18 578.63 601.18 580.97 601.18 C583.30 601.18 584.47 601.18 586.81 601.18 C589.15 601.18 590.32 596.96 592.65 596.96 C594.99 596.96 596.16 618.06 598.50 618.06 C600.83 618.06 602.00 601.18 604.34 601.18 C606.68 601.18 607.84 601.18 610.18 601.18 C612.52 601.18 613.69 596.96 616.03 596.96 C618.36 596.96 619.53 609.62 621.87 609.62 C624.21 609.62 625.37 596.96 627.71 596.96 C630.05 596.96 631.22 613.84 633.55 613.84 C635.89 613.84 637.06 592.74 639.40 592.74 C641.73 592.74 642.90 605.40 645.24 605.40 C647.58 605.40 648.75 592.74 651.08 592.74 C653.42 592.74 654.59 609.62 656.93 609.62 C659.26 609.62 660.43 596.96 662.77 596.96 C665.11 596.96 666.27 609.62 668.61 609.62 C670.95 609.62 672.12 584.30 674.46 584.30 C676.79 584.30 677.96 590.21 680.30 592.74 C682.64 595.27 683.80 594.43 686.14 596.96 C688.48 599.49 689.65 605.40 691.98 605.40 C694.32 605.40 695.49 584.30 697.83 584.30 C700.16 584.30 701.33 609.62 703.67 609.62 C706.01 609.62 707.18 601.18 709.51 601.18 C711.85 601.18 713.02 605.40 715.36 605.40 C717.69 605.40 718.86 584.30 721.20 584.30 C723.54 584.30 724.70 605.40 727.04 605.40 C729.38 605.40 730.55 592.74 732.88 592.74 C735.22 592.74 736.39 613.84 738.73 613.84 C741.07 613.84 742.23 605.40 744.57 605.40 C746.91 605.40 748.08 609.62 750.41 609.62 C752.75 609.62 753.92 605.40 756.26 605.40 C758.59 605.40 759.76 609.62 762.10 609.62 C764.44 609.62 765.61 596.96 767.94 596.96 C770.28 596.96 771.45 605.40 773.79 605.40 C776.12 605.40 777.29 596.96 779.63 596.96 C781.97 596.96 783.13 605.40 785.47 605.40 C787.81 605.40 788.98 592.74 791.32 592.74 C793.65 592.74 794.82 609.62 797.16 609.62 C799.50 609.62 800.66 596.96 803.00 596.96 C805.34 596.96 806.51 601.18 808.84 601.18 C811.18 601.18 812.35 592.74 814.69 592.74 C817.02 592.74 818.19 605.40 820.53 605.40 C822.87 605.40 824.04 596.12 826.37 592.74 C828.71 589.36 829.88 588.52 832.22 588.52 C834.55 588.52 835.72 613.84 838.06 613.84 C840.40 613.84 841.56 607.93 843.90 605.40 C846.24 602.87 847.41 601.18 849.75 601.18 C852.08 601.18 853.25 609.62 855.59 609.62 C857.93 609.62 859.09 596.96 861.43 596.96 C863.77 596.96 864.94 613.84 867.27 613.84 C869.61 613.84 870.78 605.40 873.12 605.40 C875.45 605.40 876.62 605.40 878.96 605.40 C881.30 605.40 882.47 605.40 884.80 605.40 C887.14 605.40 888.31 596.96 890.65 596.96 C892.98 596.96 894.15 601.18 896.49 605.40 C898.83 609.62 899.99 618.06 902.33 618.06 C904.67 618.06 905.84 580.08 908.17 580.08 C910.51 580.08 911.68 613.84 914.02 613.84 C916.36 613.84 917.52 601.18 919.86 601.18 C922.20 601.18 923.37 605.40 925.70 605.40 C928.04 605.40 929.21 596.96 931.55 596.96 C933.88 596.96 935.05 613.84 937.39 613.84 C939.73 613.84 940.90 592.74 943.23 592.74 C945.57 592.74 946.74 618.06 949.08 618.06 C951.41 618.06 952.58 601.18 954.92 601.18 C957.26 601.18 958.42 601.18 960.76 601.18 C963.10 601.18 964.27 592.74 966.61 592.74 C968.94 592.74 970.11 605.40 972.45 605.40 C974.79 605.40 975.95 605.40 978.29 605.40 C980.63 605.40 984.13 601.18 984.13 601.18" fill="none" stroke="#e4d354" stroke-width="2" stroke-linejoin="round"/><path d="M300.50 626.50 C300.50 626.50 304.01 626.50 306.35 626.50 C308.68 626.50 309.85 626.50 312.19 626.50 C314.53 626.50 315.69 626.50 318.03 626.50 C320.37 626.50 321.54 626.50 323.88 626.50 C326.21 626.50 327.38 626.50 329.72 626.50 C332.06 626.50 333.22 626.50 335.56 626.50 C337.90 626.50 339.07 626.50 341.40 626.50 C343.74 626.50 344.91 626.50 347.25 626.50 C349.58 626.50 350.75 626.50 353.09 626.50 C355.43 626.50 356.60 626.50 358.93 626.50 C361.27 626.50 362.44 626.50 364.78 626.50 C367.11 626.50 368.28 626.50 370.62 626.50 C372.96 626.50 374.12 626.50 376.46 626.50 C378.80 626.50 379.97 626.50 382.31 626.50 C384.64 626.50 385.81 626.50 388.15 626.50 C390.49 626.50 391.65 626.50 393.99 626.50 C396.33 626.50 397.50 626.50 399.83 626.50 C402.17 626.50 403.34 626.50 405.68 626.50 C408.01 626.50 409.18 626.50 411.52 626.50 C413.86 626.50 415.03 626.50 417.36 626.50 C419.70 626.50 420.87 626.50 423.21 626.50 C425.54 626.50 426.71 626.50 429.05 626.50 C431.39 626.50 432.55 626.50 434.89 626.50 C437.23 626.50 438.40 626.50 440.74 626.50 C443.07 626.50 444.24 626.50 446.58 626.50 C448.92 626.50 450.08 626.50 452.42 626.50 C454.76 626.50 455.93 626.50 458.26 626.50 C460.60 626.50 461.77 626.50 464.11 626.50 C466.44 626.50 467.61 626.50 469.95 626.50 C472.29 626.50 473.46 626.50 475.79 626.50 C478.13 626.50 479.30 626.50 481.64 626.50 C483.97 626.50 487.48 626.50 487.48 626.50 M499.17 626.50 C499.17 626.50 502.67 626.50 505.01 626.50 C507.35 626.50 508.51 626.50 510.85 626.50 C513.19 626.50 514.36 626.50 516.69 626.50 C519.03 626.50 520.20 626.50 522.54 626.50 C524.87 626.50 526.04 626.50 528.38 626.50 C530.72 626.50 531.89 626.50 534.22 626.50 C536.56 626.50 537.73 626.50 540.07 626.50 C542.40 626.50 543.57 626.50 545.91 626.50 C548.25 626.50 549.41 626.50 551.75 626.50 C554.09 626.50 555.26 626.50 557.60 626.50 C559.93 626.50 561.10 626.50 563.44 626.50 C565.78 626.50 566.94 626.50 569.28 626.50 C571.62 626.50 572.79 626.50 575.12 626.50 C577.46 626.50 578.63 626.50 580.97 626.50 C583.30 626.50 584.47 626.50 586.81 626.50 C589.15 626.50 590.32 626.50 592.65 626.50 C594.99 626.50 596.16 626.50 598.50 626.50 C600.83 626.50 602.00 626.50 604.34 626.50 C606.68 626.50 607.84 626.50 610.18 626.50 C612.52 626.50 613.69 626.50 616.03 626.50 C618.36 626.50 619.53 626.50 621.87 626.50 C624.21 626.50 625.37 626.50 627.71 626.50 C630.05 626.50 631.22 626.50 633.55 626.50 C635.89 626.50 637.06 626.50 639.40 626.50 C641.73 626.50 642.90 626.50 645.24 626.50 C647.58 626.50 648.75 626.50 651.08 626.50 C653.42 626.50 654.59 626.50 656.93 626.50 C659.26 626.50 660.43 626.50 662.77 626.50 C665.11 626.50 666.27 626.50 668.61 626.50 C670.95 626.50 672.12 626.50 674.46 626.50 C676.79 626.50 677.96 626.50 680.30 626.50 C682.64 626.50 683.80 626.50 686.14 626.50 C688.48 626.50 689.65 626.50 691.98 626.50 C694.32 626.50 695.49 626.50 697.83 626.50 C700.16 626.50 701.33 626.50 703.67 626.50 C706.01 626.50 707.18 626.50 709.51 626.50 C711.85 626.50 713.02 626.50 715.36 626.50 C717.69 626.50 718.86 626.50 721.20 626.50 C723.54 626.50 724.70 626.50 727.04 626.50 C729.38 626.50 730.55 626.50 732.88 626.50 C735.22 626.50 736.39 626.50 738.73 626.50 C741.07 626.50 742.23 626.50 744.57 626.50 C746.91 626.50 748.08 626.50 750.41 626.50 C752.75 626.50 753.92 626.50 756.26 626.50 C758.59 626.50 759.76 626.50 762.10 626.50 C764.44 626.50 765.61 626.50 767.94 626.50 C770.28 626.50 771.45 626.50 773.79 626.50 C776.12 626.50 777.29 626.50 779.63 626.50 C781.97 626.50 783.13 626.50 785.47 626.50 C787.81 626.50 788.98 626.50 791.32 626.50 C793.65 626.50 794.82 626.50 797.16 626.50 C799.50 626.50 800.66 626.50 803.00 626.50 C805.34 626.50 806.51 626.50 808.84 626.50 C811.18 626.50 812.35 626.50 814.69 626.50 C817.02 626.50 818.19 626.50 820.53 626.50 C822.87 626.50 824.04 626.50 826.37 626.50 C828.71 626.50 829.88 626.50 832.22 626.50 C834.55 626.50 835.72 626.50 838.06 626.50 C840.40 626.50 841.56 626.50 843.90 626.50 C846.24 626.50 847.41 626.50 849.75 626.50 C852.08 626.50 853.25 626.50 855.59 626.50 C857.93 626.50 859.09 626.50 861.43 626.50 C863.77 626.50 864.94 626.50 867.27 626.50 C869.61 626.50 870.78 626.50 873.12 626.50 C875.45 626.50 876.62 626.50 878.96 626.50 C881.30 626.50 882.47 626.50 884.80 626.50 C887.14 626.50 888.31 626.50 890.65 626.50 C892.98 626.50 894.15 626.50 896.49 626.50 C898.83 626.50 899.99 626.50 902.33 626.50 C904.67 626.50 905.84 626.50 908.17 626.50 C910.51 626.50 911.68 626.50 914.02 626.50 C916.36 626.50 917.52 626.50 919.86 626.50 C922.20 626.50 923.37 626.50 925.70 626.50 C928.04 626.50 929.21 626.50 931.55 626.50 C933.88 626.50 935.05 626.50 937.39 626.50 C939.73 626.50 940.90 626.50 943.23 626.50 C945.57 626.50 946.74 626.50 949.08 626.50 C951.41 626.50 952.58 626.50 954.92 626.50 C957.26 626.50 958.42 626.50 960.76 626.50 C963.10 626.50 964.27 626.50 966.61 626.50 C968.94 626.50 970.11 626.50 972.45 626.50 C974.79 626.50 975.95 626.50 978.29 626.50 C980.63 626.50 984.13 626.50 984.13 626.50" fill="none" stroke="#91e8e1" stroke-width="1.7"/><path d="M931.5 204 V626.5" stroke="#a8a8a8" stroke-width="1"/><circle cx="931.5" cy="234.0" r="9" fill="#7cb5ec" opacity="0.25"/><circle cx="931.5" cy="234.0" r="5" fill="#7cb5ec" stroke="#fff" stroke-width="1"/><circle cx="931.5" cy="554.8" r="9" fill="#f7a35c" opacity="0.25"/><circle cx="931.5" cy="554.8" r="5" fill="#f7a35c" stroke="#fff" stroke-width="1"/><circle cx="931.5" cy="597.0" r="9" fill="#e4d354" opacity="0.25"/><path d="M931.5 592.0 L936.5 601.0 L926.5 601.0 Z" fill="#e4d354" stroke="#fff" stroke-width="1"/><circle cx="931.5" cy="626.5" r="9" fill="#8085e9" opacity="0.55"/><rect x="926.5" y="621.5" width="10" height="10" fill="#fff" opacity="0.7"/><path d="M931.5 620.5 L937.5 626.5 L931.5 632.5 L925.5 626.5 Z" fill="#91e8e1" stroke="#fff" stroke-width="1"/></svg>
<div class="t" style="left:570px;width:200px;top:151px;text-align:center;font-size:16px;color:#333">Response Status</div>
<div class="t" style="left:520px;width:300px;top:180px;text-align:center;font-size:11.25px;color:#666">lower values represent better values</div>
<svg class="a" style="left:1030px;top:156px" width="15" height="12" viewBox="0 0 15 12" ><path d="M1.2 1.8 H13.8 M1.2 6.2 H13.8 M1.2 10.6 H13.8" stroke="#666" stroke-width="2.3" stroke-linecap="round"/></svg>
<div class="t" style="left:1004.7px;top:620.0px;font-size:11px;color:#666;">0</div>
<div class="t" style="left:1004.7px;top:577.8px;font-size:11px;color:#666;">10</div>
<div class="t" style="left:1004.7px;top:535.6px;font-size:11px;color:#666;">20</div>
<div class="t" style="left:1004.7px;top:493.4px;font-size:11px;color:#666;">30</div>
<div class="t" style="left:1004.7px;top:451.20000000000005px;font-size:11px;color:#666;">40</div>
<div class="t" style="left:1004.7px;top:409.0px;font-size:11px;color:#666;">50</div>
<div class="t" style="left:1004.7px;top:366.8px;font-size:11px;color:#666;">60</div>
<div class="t" style="left:1004.7px;top:324.6px;font-size:11px;color:#666;">70</div>
<div class="t" style="left:1004.7px;top:282.40000000000003px;font-size:11px;color:#666;">80</div>
<div class="t" style="left:1004.7px;top:240.20000000000005px;font-size:11px;color:#666;">90</div>
<div class="t" style="left:1004.7px;top:198.0px;font-size:11px;color:#666;">100</div>
<div class="t" style="left:996px;top:409px;width:78px;text-align:center;font-size:10.7px;color:#666;transform:rotate(90deg);transform-origin:39px 6px">Response Code</div>
<div class="t" style="left:294.5px;top:635px;font-size:11px;color:#666">16:00</div>
<div class="t" style="left:334.4px;width:60px;top:635px;text-align:center;font-size:11px;color:#666">16:01</div>
<div class="t" style="left:404.6px;width:60px;top:635px;text-align:center;font-size:11px;color:#666">16:02</div>
<div class="t" style="left:474.9px;width:60px;top:635px;text-align:center;font-size:11px;color:#666">16:03</div>
<div class="t" style="left:545.1px;width:60px;top:635px;text-align:center;font-size:11px;color:#666">16:04</div>
<div class="t" style="left:615.3px;width:60px;top:635px;text-align:center;font-size:11px;color:#666">16:05</div>
<div class="t" style="left:685.5px;width:60px;top:635px;text-align:center;font-size:11px;color:#666">16:06</div>
<div class="t" style="left:755.7px;width:60px;top:635px;text-align:center;font-size:11px;color:#666">16:07</div>
<div class="t" style="left:826.0px;width:60px;top:635px;text-align:center;font-size:11px;color:#666">16:08</div>
<div class="t" style="left:896.2px;width:60px;top:635px;text-align:center;font-size:11px;color:#666">16:09</div>
<div class="t" style="left:293.7px;top:634px;font-size:11px;color:#666;background:#fff;width:0"></div>
<div class="a" style="left:338px;top:669px;width:14px;height:2px;background:#7cb5ec"></div>
<div class="t" style="left:358px;top:665.2px;font-size:11.5px;color:#333;font-weight:bold;letter-spacing:0.1px">/-status200</div>
<div class="a" style="left:439px;top:669px;width:14px;height:2px;background:#f7a35c"></div>
<div class="t" style="left:459px;top:665.2px;font-size:11.5px;color:#333;font-weight:bold;letter-spacing:0.1px">/-status300</div>
<div class="a" style="left:539px;top:669px;width:14px;height:2px;background:#8085e9"></div>
<div class="t" style="left:559px;top:665.2px;font-size:11.5px;color:#333;font-weight:bold;letter-spacing:0.1px">/-status400</div>
<div class="a" style="left:640px;top:669px;width:14px;height:2px;background:#f15c80"></div>
<div class="t" style="left:660px;top:665.2px;font-size:11.5px;color:#333;font-weight:bold;letter-spacing:0.1px">/-status500</div>
<div class="a" style="left:740px;top:669px;width:14px;height:2px;background:#e4d354"></div>
<div class="t" style="left:760px;top:665.2px;font-size:11.5px;color:#333;font-weight:bold;letter-spacing:0.1px">/testapp-status200</div>
<div class="a" style="left:880px;top:669px;width:14px;height:2px;background:#8085e9"></div>
<div class="t" style="left:900px;top:665.2px;font-size:11.5px;color:#333;font-weight:bold;letter-spacing:0.1px">/testapp-status300</div>
<div class="a" style="left:338px;top:685px;width:14px;height:2px;background:#2b5cf5"></div>
<div class="t" style="left:358px;top:681.2px;font-size:11.5px;color:#333;font-weight:bold;letter-spacing:0.1px">/testapp-status400</div>
<div class="a" style="left:478px;top:685px;width:14px;height:2px;background:#91e8e1"></div>
<div class="t" style="left:498px;top:681.2px;font-size:11.5px;color:#333;font-weight:bold;letter-spacing:0.1px">/testapp-status500</div>
<div class="a" style="left:769.3px;top:163.3px;width:149.5px;height:146.5px;background:rgba(249,249,249,0.88);border:1px solid #7cb5ec;border-radius:3px;box-shadow:1px 1px 3px rgba(0,0,0,0.15)"></div>
<div class="t" style="left:776.5px;top:172px;font-size:11px;color:#333;font-weight:bold;letter-spacing:0.65px">2021-07-26 16:09:05</div>
<div class="a" style="left:777px;top:187.6px;width:6px;height:6px;border-radius:50%;background:#7cb5ec"></div>
<div class="t" style="left:785px;top:184.6px;font-size:11px;color:#333;letter-spacing:0.58px">/-status200: <b>93.0</b></div>
<div class="a" style="left:777px;top:200.7px;width:6px;height:6px;border-radius:50%;background:#f7a35c"></div>
<div class="t" style="left:785px;top:197.65px;font-size:11px;color:#333;letter-spacing:0.58px">/-status300: <b>17.0</b></div>
<div class="a" style="left:777px;top:213.7px;width:6px;height:6px;border-radius:50%;background:#8085e9"></div>
<div class="t" style="left:785px;top:210.7px;font-size:11px;color:#333;letter-spacing:0.58px">/-status400: <b>0.0</b></div>
<div class="a" style="left:777px;top:226.8px;width:6px;height:6px;border-radius:50%;background:#f15c80"></div>
<div class="t" style="left:785px;top:223.75px;font-size:11px;color:#333;letter-spacing:0.58px">/-status500: <b>0.0</b></div>
<div class="a" style="left:777px;top:239.8px;width:6px;height:6px;border-radius:50%;background:#e4d354"></div>
<div class="t" style="left:785px;top:236.8px;font-size:11px;color:#333;letter-spacing:0.58px">/testapp-status200: <b>7.0</b></div>
<div class="a" style="left:777px;top:252.8px;width:6px;height:6px;border-radius:50%;background:#8085e9"></div>
<div class="t" style="left:785px;top:249.85px;font-size:11px;color:#333;letter-spacing:0.58px">/testapp-status300: <b>0.0</b></div>
<div class="a" style="left:777px;top:265.9px;width:6px;height:6px;border-radius:50%;background:#2b5cf5"></div>
<div class="t" style="left:785px;top:262.9px;font-size:11px;color:#333;letter-spacing:0.58px">/testapp-status400: <b>0.0</b></div>
<div class="a" style="left:777px;top:278.9px;width:6px;height:6px;border-radius:50%;background:#91e8e1"></div>
<div class="t" style="left:785px;top:275.95px;font-size:11px;color:#333;letter-spacing:0.58px">/testapp-status500: <b>0.0</b></div>
<div class="t" style="left:776.5px;top:288.8px;font-size:11px;color:#333;letter-spacing:0.58px">Total: <b>117.0</b></div>
<svg class="a" style="left:1023px;top:695px" width="11" height="10" viewBox="0 0 11 10" ><rect x="0.6" y="0.6" width="9" height="8.8" rx="1.5" fill="none" stroke="#555" stroke-width="1.2"/><path d="M2.5 4.5 L4.6 6.8 L10.5 0.8" fill="none" stroke="#222" stroke-width="1.8"/></svg>
<svg class="a" style="left:1038px;top:695px" width="10" height="10" viewBox="0 0 10 10" ><rect x="0.6" y="0.6" width="8.8" height="8.8" rx="1.5" fill="none" stroke="#555" stroke-width="1.2"/></svg>
<div class="a" style="left:1059px;top:0;width:1px;height:720px;background:#e2e2e2"></div></body></html>
